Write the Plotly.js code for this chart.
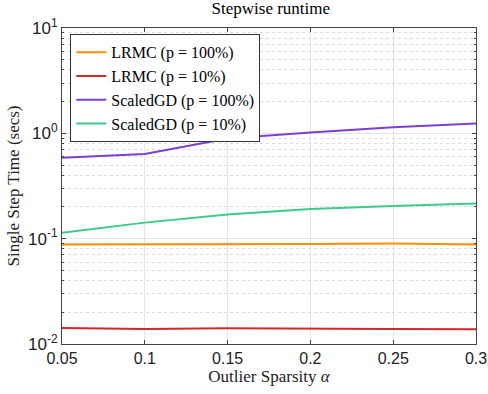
<!DOCTYPE html>
<html>
<head>
<meta charset="utf-8">
<script src="https://cdn.plot.ly/plotly-3.0.1.min.js"></script>
<style>
  html, body { margin: 0; padding: 0; background: #fff; }
  #chart { width: 488px; height: 394px; }
</style>
</head>
<body>
<div id="chart"></div>
<script>
// outlier sparsity levels
const alphas = [0.05, 0.1, 0.15, 0.2, 0.25, 0.3];

// single step time (secs)
const lrmcFull = [0.088, 0.088, 0.089, 0.089, 0.090, 0.088];
const lrmcTen = [0.0142, 0.0139, 0.0141, 0.0139, 0.0139, 0.0138];
const scaledFull = [0.585, 0.638, 0.891, 1.02, 1.14, 1.24];
const scaledTen = [0.114, 0.142, 0.170, 0.191, 0.204, 0.216];

const seriesNames = ['LRMC (p = 100%)', 'LRMC (p = 10%)', 'ScaledGD (p = 100%)', 'ScaledGD (p = 10%)'];
const seriesColors = ['#ff8c00', '#d62728', '#7b3fd6', '#3ccb8a'];

const yTickVals = [0.01, 0.1, 1, 10];
const yTickText = ['10<sup>-2</sup>', '10<sup>-1</sup>', '10<sup>0</sup>', '10<sup>1</sup>'];
const xTickVals = [0.05, 0.1, 0.15, 0.2, 0.25, 0.3];
const xTickText = ['0.05', '0.1', '0.15', '0.2', '0.25', '0.3'];

const serif = 'Liberation Serif, DejaVu Serif, serif';
const sans = 'Liberation Sans, Arial, sans-serif';

const traces = [lrmcFull, lrmcTen, scaledFull, scaledTen].map((ys, i) => ({
    x: alphas,
    y: ys,
    name: seriesNames[i],
    type: 'scatter',
    mode: 'lines',
    line: { color: seriesColors[i], width: 2 }
}));

const layout = {
    width: 488,
    height: 394,
    margin: { l: 62, r: 12, t: 28, b: 50 },
    paper_bgcolor: '#fff',
    plot_bgcolor: '#fff',
    title: {
        text: 'Stepwise runtime',
        font: { family: serif, size: 17, color: '#000' },
        x: 0.555, xanchor: 'center', y: 0.995, yanchor: 'top'
    },
    xaxis: {
        range: [0.05, 0.3],
        tickvals: xTickVals,
        ticktext: xTickText,
        ticks: 'inside',
        ticklen: 4,
        tickcolor: '#444',
        showline: true,
        linecolor: '#444',
        linewidth: 1,
        mirror: 'ticks',
        showgrid: true,
        gridcolor: '#e4e4e4',
        zeroline: false,
        tickfont: { family: sans, size: 16, color: '#222' },
        title: {
            text: 'Outlier Sparsity <i>α</i>',
            font: { family: serif, size: 17, color: '#222' },
            standoff: 2
        }
    },
    yaxis: {
        type: 'log',
        range: [-2, 1],
        tickvals: yTickVals,
        ticktext: yTickText,
        ticks: 'inside',
        ticklen: 4,
        tickcolor: '#444',
        showline: true,
        linecolor: '#444',
        linewidth: 1,
        mirror: 'ticks',
        showgrid: true,
        gridcolor: '#e4e4e4',
        zeroline: false,
        tickfont: { family: sans, size: 17, color: '#222' },
        minor: {
            dtick: 'D1',
            ticks: 'inside',
            ticklen: 2,
            tickcolor: '#444',
            showgrid: true,
            gridcolor: '#dcdcdc',
            gridwidth: 1,
            griddash: 'dot'
        },
        title: {
            text: 'Single Step Time (secs)',
            font: { family: serif, size: 17, color: '#222' },
            standoff: 4
        }
    },
    legend: {
        x: 0.02, xanchor: 'left',
        y: 0.98, yanchor: 'top',
        bgcolor: '#fff',
        bordercolor: '#333',
        borderwidth: 1,
        font: { family: serif, size: 16, color: '#000' },
        tracegroupgap: 0,
        itemwidth: 30
    },
    showlegend: true
};

Plotly.newPlot('chart', traces, layout, { displayModeBar: false, staticPlot: true });
</script>
</body>
</html>
